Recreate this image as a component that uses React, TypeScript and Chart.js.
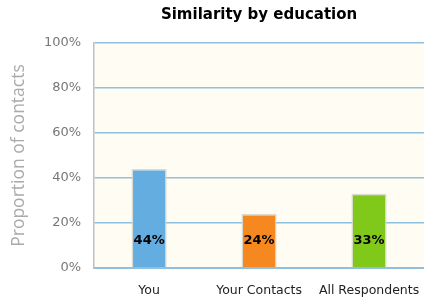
import React, { useEffect, useRef } from "react";
import { Chart, registerables } from "chart.js";

Chart.register(...registerables);

const categories = ["You", "Your Contacts", "All Respondents"];
const values = [44, 24, 33];
const barColors = ["#64ade0", "#f5891f", "#80c81a"];
const yTicks = [0, 20, 40, 60, 80, 100];

const barLabelPlugin = {
  id: "barLabels",
  afterDatasetsDraw(chart: any) {
    const ctx = chart.ctx;
    const meta = chart.getDatasetMeta(0);
    const yScale = chart.scales.y;
    ctx.save();
    ctx.font = "bold 13px 'DejaVu Sans'";
    ctx.fillStyle = "#000";
    ctx.textAlign = "center";
    ctx.textBaseline = "middle";
    meta.data.forEach((bar: any, i: number) => {
      ctx.fillText(values[i] + "%", bar.x, yScale.bottom - 27);
    });
    ctx.restore();
  },
};

const plotBgPlugin = {
  id: "plotBg",
  beforeDraw(chart: any) {
    const { ctx, chartArea } = chart;
    ctx.save();
    ctx.fillStyle = "#fffcf3";
    ctx.fillRect(chartArea.left, chartArea.top, chartArea.right - chartArea.left, chartArea.bottom - chartArea.top);
    ctx.restore();
  },
};

export default function App() {
  const ref = useRef<HTMLCanvasElement>(null);
  useEffect(() => {
    if (!ref.current) return;
    const chart = new Chart(ref.current, {
      type: "bar",
      data: {
        labels: categories,
        datasets: [
          {
            data: values,
            backgroundColor: barColors,
            borderColor: "rgba(215,215,205,0.9)",
            borderWidth: 1.5,
            barPercentage: 0.32,
            categoryPercentage: 1,
          },
        ],
      },
      options: {
        animation: false,
        responsive: false,
        layout: { padding: { left: 9, right: 0, top: 0, bottom: 0 } },
        plugins: {
          legend: { display: false },
          tooltip: { enabled: false },
          title: {
            display: true,
            text: "Similarity by education",
            fullSize: false,
            color: "#000",
            font: { family: "'DejaVu Sans'", size: 15, weight: "bold" },
            padding: { top: 6, bottom: 19 },
          },
        },
        scales: {
          x: {
            grid: { display: false, drawTicks: false },
            border: { display: true, color: "#8fc0e0", width: 2 },
            ticks: {
              color: "#222",
              font: { family: "'DejaVu Sans'", size: 12.5 },
              padding: 15,
              maxRotation: 0,
            },
            afterFit(axis: any) {
              axis.height = 32;
              axis.paddingLeft = 0;
              axis.paddingRight = 0;
            },
          },
          y: {
            min: 0,
            max: 100,
            afterBuildTicks(axis: any) {
              axis.ticks = yTicks.map((v) => ({ value: v }));
            },
            grid: { color: "#8fc0e0", lineWidth: 1.5, drawTicks: false },
            border: { display: true, color: "#c0c0c0", width: 1.5 },
            ticks: {
              color: "#777",
              font: { family: "'DejaVu Sans'", size: 13 },
              padding: 13,
              callback: (v: any) => v + "%",
            },
            title: {
              display: true,
              text: "Proportion of contacts",
              color: "#aaa",
              font: { family: "'Open Sans'", size: 17.5 },
              padding: { top: 0, bottom: 1 },
            },
          },
        },
      },
      plugins: [plotBgPlugin, barLabelPlugin],
    });
    return () => chart.destroy();
  }, []);
  return (
    <div style={{ position: "fixed", left: 0, top: 0, width: 424, height: 300, background: "#fff" }}>
      <canvas ref={ref} width={424} height={300} />
    </div>
  );
}
